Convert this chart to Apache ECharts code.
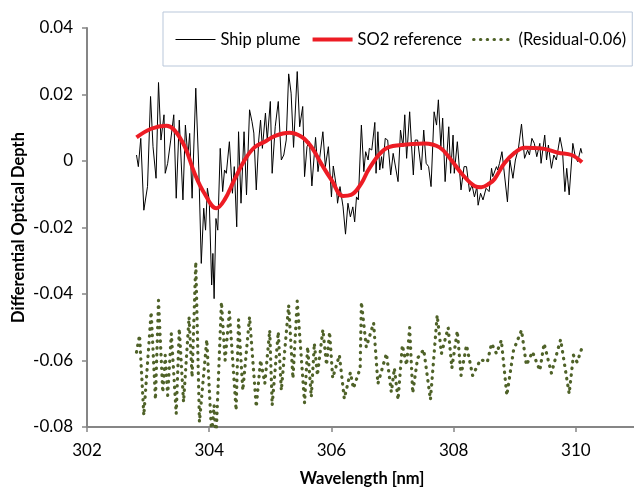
<!DOCTYPE html>
<html>
<head>
<meta charset="utf-8">
<script src="https://cdn.jsdelivr.net/npm/echarts@6/dist/echarts.min.js"></script>
<style>
  html, body { margin: 0; padding: 0; background: #ffffff; }
  #chart { width: 634px; height: 487px; }
</style>
</head>
<body>
<div id="chart"></div>
<script>
// Measured ship plume differential optical depth
const plumeWavelength = [302.81,302.84,302.88,302.93,302.99,303.04,303.08,303.13,303.17,303.21,
  303.26,303.28,303.32,303.37,303.42,303.46,303.51,303.57,303.61,303.65,
  303.68,303.72,303.78,303.83,303.87,303.91,303.94,303.97,304.00,304.04,
  304.06,304.08,304.11,304.14,304.18,304.22,304.25,304.28,304.33,304.38,
  304.41,304.45,304.48,304.52,304.57,304.61,304.66,304.70,304.73,304.77,
  304.81,304.84,304.87,304.92,304.95,305.00,305.03,305.08,305.13,305.18,
  305.22,305.26,305.30,305.34,305.38,305.44,305.48,305.53,305.56,305.60,
  305.64,305.68,305.74,305.78,305.86,305.90,305.95,306.00,306.03,306.08,
  306.10,306.14,306.19,306.23,306.27,306.31,306.35,306.38,306.41,306.44,
  306.49,306.53,306.56,306.60,306.62,306.66,306.71,306.73,306.76,306.79,
  306.82,306.84,306.88,306.92,306.97,307.01,307.04,307.09,307.13,307.17,
  307.20,307.23,307.28,307.31,307.34,307.37,307.41,307.44,307.47,307.51,
  307.55,307.59,307.63,307.68,307.72,307.75,307.79,307.82,307.86,307.92,
  307.95,307.99,308.01,308.06,308.12,308.17,308.21,308.26,308.30,308.34,
  308.38,308.40,308.44,308.48,308.53,308.58,308.62,308.64,308.70,308.72,
  308.75,308.79,308.82,308.88,308.92,308.97,309.01,309.06,309.11,309.16,
  309.21,309.24,309.28,309.32,309.36,309.41,309.43,309.49,309.52,309.55,
  309.60,309.64,309.68,309.74,309.78,309.82,309.85,309.89,309.95,309.99,
  310.03,310.08,310.10];
const plumeDepth = [0.0018,-0.0017,0.0068,-0.0148,-0.0077,0.0194,0.0043,-0.0052,0.0236,0.0063,
  0.0139,-0.0037,-0.0007,0.0063,0.0139,-0.0112,0.0123,-0.0117,0.0108,0.0013,
  0.0083,-0.0112,0.0219,-0.0027,-0.0308,-0.0142,-0.0208,-0.0082,-0.0117,-0.0373,
  -0.0278,-0.0414,-0.0173,-0.0208,0.0038,-0.0092,-0.0027,-0.0037,0.0058,-0.0097,
  -0.0017,-0.0198,0.0088,-0.0127,0.0088,-0.0102,0.0154,0.0118,0.0084,-0.0087,
  0.0063,0.0123,0.0038,0.0144,0.0063,0.0179,-0.0037,0.0103,0.0179,0.0003,
  0.0018,0.0063,0.0262,0.0204,0.0041,0.0269,0.0103,0.0164,-0.0047,0.0043,
  0.0058,-0.0075,0.0071,-0.0032,0.0088,-0.0017,0.0043,-0.0108,-0.0015,-0.0077,
  -0.0127,-0.0077,-0.0138,-0.0220,-0.0127,-0.0168,-0.0138,-0.0183,-0.0108,-0.0117,
  0.0108,-0.0032,0.0028,0.0003,0.0038,0.0033,0.0116,-0.0037,0.0088,-0.0027,
  0.0013,-0.0022,0.0068,0.0063,-0.0042,0.0023,0.0023,-0.0062,0.0093,0.0043,
  0.0139,0.0008,0.0148,0.0048,-0.0042,0.0063,0.0063,0.0058,-0.0027,0.0093,
  -0.0007,-0.0017,-0.0077,0.0148,0.0108,0.0184,0.0043,0.0129,-0.0062,0.0103,
  -0.0037,0.0078,-0.0037,0.0058,-0.0087,-0.0017,-0.0017,-0.0092,-0.0072,-0.0108,
  -0.0077,-0.0133,-0.0097,-0.0117,-0.0082,-0.0092,-0.0022,-0.0047,-0.0017,-0.0027,
  -0.0007,0.0028,-0.0022,-0.0123,0.0003,-0.0052,0.0003,0.0038,0.0111,0.0008,
  0.0033,0.0018,0.0068,0.0053,0.0013,0.0053,-0.0007,0.0078,0.0003,0.0048,
  -0.0022,0.0018,0.0003,0.0071,0.0033,-0.0092,-0.0022,-0.0102,0.0053,0.0013,
  -0.0002,0.0038,0.0023];

// Fitted SO2 reference cross-section
const so2Wavelength = [302.81,303.05,303.30,303.43,303.60,303.76,303.92,304.12,304.25,304.41,
  304.58,304.74,304.91,305.07,305.31,305.51,305.67,305.83,306.00,306.19,
  306.32,306.49,306.62,306.87,307.14,307.52,307.77,307.96,308.15,308.34,
  308.45,308.59,308.67,308.83,309.00,309.16,309.43,309.71,309.93,310.10];
const so2Depth = [0.0071,0.0097,0.0106,0.0093,0.0043,-0.0037,-0.0097,-0.0142,-0.0117,-0.0057,
  0.0003,0.0041,0.0058,0.0075,0.0085,0.0073,0.0043,-0.0007,-0.0057,-0.0105,
  -0.0102,-0.0067,-0.0022,0.0035,0.0048,0.0053,0.0041,0.0003,-0.0042,-0.0075,
  -0.0079,-0.0067,-0.0054,-0.0007,0.0025,0.0040,0.0038,0.0025,0.0018,-0.0004];

// Fit residual, offset by -0.06 for display
const residualWavelength = [302.81,302.86,302.93,303.05,303.12,303.17,303.24,303.28,303.32,303.38,
  303.46,303.51,303.58,303.67,303.72,303.78,303.84,303.96,304.04,304.08,
  304.11,304.20,304.26,304.33,304.44,304.48,304.55,304.66,304.77,304.84,
  304.91,304.99,305.03,305.13,305.18,305.30,305.37,305.44,305.56,305.61,
  305.67,305.72,305.77,305.86,305.92,305.97,306.02,306.13,306.21,306.31,
  306.36,306.47,306.49,306.57,306.69,306.76,306.90,306.98,307.03,307.09,
  307.16,307.23,307.28,307.33,307.41,307.51,307.62,307.73,307.80,307.91,
  307.97,308.06,308.12,308.21,308.31,308.44,308.55,308.62,308.70,308.78,
  308.87,308.98,309.11,309.19,309.29,309.41,309.48,309.60,309.75,309.89,
  309.96,310.02,310.09];
const residualDepth = [-0.0575,-0.0524,-0.0765,-0.0454,-0.0717,-0.0419,-0.0696,-0.0584,-0.0705,-0.0519,
  -0.0760,-0.0504,-0.0725,-0.0469,-0.0650,-0.0303,-0.0785,-0.0537,-0.0825,-0.0735,
  -0.0840,-0.0424,-0.0599,-0.0454,-0.0750,-0.0477,-0.0690,-0.0469,-0.0740,-0.0599,
  -0.0669,-0.0509,-0.0735,-0.0514,-0.0690,-0.0434,-0.0654,-0.0421,-0.0728,-0.0559,
  -0.0710,-0.0548,-0.0645,-0.0507,-0.0614,-0.0514,-0.0653,-0.0584,-0.0715,-0.0636,
  -0.0684,-0.0623,-0.0424,-0.0560,-0.0487,-0.0670,-0.0579,-0.0695,-0.0623,-0.0718,
  -0.0554,-0.0614,-0.0501,-0.0698,-0.0593,-0.0567,-0.0718,-0.0464,-0.0579,-0.0501,
  -0.0623,-0.0511,-0.0645,-0.0554,-0.0645,-0.0597,-0.0605,-0.0549,-0.0579,-0.0539,
  -0.0705,-0.0569,-0.0509,-0.0614,-0.0574,-0.0630,-0.0549,-0.0638,-0.0537,-0.0700,
  -0.0584,-0.0605,-0.0567];

const seriesNames = ['Ship plume', 'SO2 reference', '(Residual-0.06)'];

function pairs(xs, ys) {
  const out = [];
  const n = Math.min(xs.length, ys.length);
  for (let i = 0; i < n; i++) out.push([xs[i], ys[i]]);
  return out;
}

const FONT = 'Lato, "Open Sans", sans-serif';
const AXIS_GREY = '#868686';
const PLUME_STYLE = { color: '#000000', width: 1 };
const SO2_STYLE = { color: '#ed1c24', width: 4 };
const RESIDUAL_STYLE = { color: '#4f6228', width: 3.2, type: [0.5, 6.3], cap: 'round', join: 'round' };

const chart = echarts.init(document.getElementById('chart'), null, { renderer: 'canvas' });

chart.setOption({
  animation: false,
  backgroundColor: '#ffffff',
  textStyle: { fontFamily: FONT },
  grid: {
    left: 87, top: 28, right: -3, bottom: 60,
    containLabel: false,
    outerBoundsMode: 'none'
  },
  legend: {
    data: [
      { name: seriesNames[0], lineStyle: { color: '#000000', width: 1 } },
      { name: seriesNames[1], lineStyle: { color: '#ed1c24', width: 4 } },
      { name: seriesNames[2], lineStyle: { color: '#4f6228', width: 3, type: [0.5, 6.3], cap: 'round' } }
    ],
    left: 163, top: 12,
    padding: [19, 6, 18, 12],
    itemWidth: 40, itemHeight: 16, itemGap: 10,
    borderColor: '#b9c7da', borderWidth: 1,
    itemStyle: { opacity: 0 },
    textStyle: { fontFamily: FONT, fontSize: 16.5, color: '#000' }
  },
  xAxis: {
    type: 'value',
    min: 302, max: 311, interval: 2,
    name: 'Wavelength [nm]',
    nameLocation: 'middle', nameGap: 43,
    nameMoveOverlap: false,
    nameTextStyle: { fontFamily: FONT, fontSize: 16.5, fontWeight: 'bold', color: '#000' },
    axisLine: { show: true, onZero: false, lineStyle: { color: AXIS_GREY, width: 2 } },
    axisTick: { show: true, inside: false, length: 5, lineStyle: { color: AXIS_GREY, width: 1.5 } },
    axisLabel: { fontFamily: FONT, fontSize: 17, color: '#000', margin: 15, showMaxLabel: false },
    splitLine: { show: false }
  },
  yAxis: {
    type: 'value',
    min: -0.08, max: 0.04, interval: 0.02,
    name: 'Differential Optical Depth',
    nameLocation: 'middle', nameGap: 60,
    nameMoveOverlap: false,
    nameTextStyle: { fontFamily: FONT, fontSize: 16.5, fontWeight: 'bold', color: '#000' },
    axisLine: { show: true, onZero: false, lineStyle: { color: AXIS_GREY, width: 2 } },
    axisTick: { show: true, inside: false, length: 5, lineStyle: { color: AXIS_GREY, width: 1.5 } },
    axisLabel: {
      fontFamily: FONT, fontSize: 17, color: '#000', margin: 14,
      formatter: v => (Math.abs(v) < 1e-9 ? '0' : v.toFixed(2))
    },
    splitLine: { show: false }
  },
  series: [
    {
      name: seriesNames[0],
      type: 'line',
      data: pairs(plumeWavelength, plumeDepth),
      symbol: 'none',
      lineStyle: PLUME_STYLE,
      itemStyle: { color: PLUME_STYLE.color },
      z: 2
    },
    {
      name: seriesNames[1],
      type: 'line',
      data: pairs(so2Wavelength, so2Depth),
      symbol: 'none',
      smooth: 0.4,
      lineStyle: SO2_STYLE,
      itemStyle: { color: SO2_STYLE.color },
      z: 4
    },
    {
      name: seriesNames[2],
      type: 'line',
      data: pairs(residualWavelength, residualDepth),
      symbol: 'none',
      clip: true,
      lineStyle: RESIDUAL_STYLE,
      itemStyle: { color: RESIDUAL_STYLE.color },
      z: 3
    }
  ]
});
</script>
</body>
</html>
